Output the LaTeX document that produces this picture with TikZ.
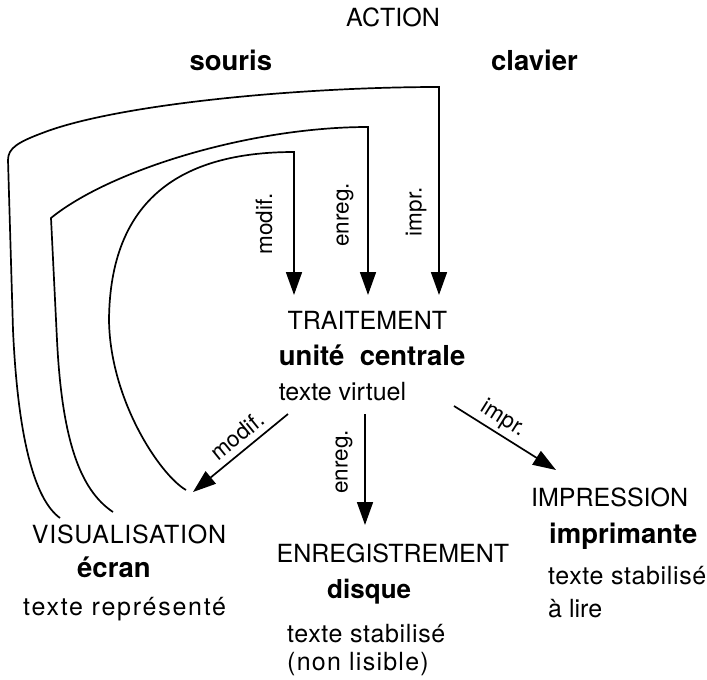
\documentclass[tikz,border=0pt]{standalone}
\usepackage{fontspec}
\setmainfont{TeX Gyre Heros}
\usetikzlibrary{arrows.meta}
\newcommand{\lsp}[1]{\addfontfeature{LetterSpace=#1}}
\begin{document}
\begin{tikzpicture}[x=1pt,y=-1pt,
  lbl/.style={inner sep=0pt, anchor=base west, font=\fontsize{25}{30}\selectfont},
  bld/.style={inner sep=0pt, anchor=base west, font=\fontsize{27.5}{32}\selectfont\bfseries},
  tag/.style={inner sep=0pt, font=\fontsize{22.5}{27}\selectfont},
  arr/.style={line width=1.7pt, -{Triangle[length=23pt,width=16pt]}}]
\useasboundingbox (0,0) rectangle (707,680);
% texts
\node[lbl] (action) at (346,27) {ACTION};
\node[bld] (souris) at (189.4,70) {souris};
\node[bld] (clavier) at (491,70) {clavier};
\node[lbl] (trait) at (287.3,329) {TRAITEMENT};
\node[bld] (uc) at (278.7,365) {unité\ \ centrale};
\node[lbl] (tv) at (278.7,400) {texte virtuel};
\node[lbl] (visu) at (31.7,543) {\lsp{3}VISUALISATION};
\node[bld] (ecran) at (77,577) {écran};
\node[lbl] (trep) at (23,615) {\lsp{7}texte représenté};
\node[lbl] (enr) at (276.4,562) {ENREGISTREMENT};
\node[bld, font=\fontsize{26}{30}\selectfont\bfseries] (disque) at (327,598) {disque};
\node[lbl] (tsa) at (287,642) {\lsp{2.5}texte stabilisé};
\node[lbl] (nl) at (287,670) {\lsp{5}(non lisible)};
\node[lbl] (impr) at (531,506) {IMPRESSION};
\node[bld] (imprim) at (549,543) {imprimante};
\node[lbl] (tsb) at (548,584) {\lsp{2.5}texte stabilisé};
\node[lbl] (alire) at (548,617) {à lire};
% labels on connectors
\node[tag, rotate=90] (lm) at (264,224) {modif.};
\node[tag, rotate=90] (le) at (345,215) {enreg.};
\node[tag, rotate=90] (li) at (416,212) {impr.};
\node[tag, rotate=39] (bm) at (237,436) {modif.};
\node[tag, rotate=90] (be) at (344,462) {enreg.};
\node[tag, rotate=-32] (bi) at (503,419) {impr.};
% connector ends
\coordinate (so) at (60,518);
\coordinate (sm) at (113,512);
\coordinate (si) at (186,490);
\coordinate (to) at (439,295);
\coordinate (tm) at (368,295);
\coordinate (ti) at (294,295);
\coordinate (fv) at (288,414);
\coordinate (fe) at (365,414);
\coordinate (fi) at (454,406);
\coordinate (av) at (193,492);
\coordinate (ae) at (365,525);
\coordinate (ai) at (556,470);
% curved connectors from VISUALISATION up to TRAITEMENT
\draw[arr] (so) .. controls (35,500) and (18,440) .. (13,330) -- (8,160)
  .. controls (8,148) and (18,142) .. (45,132)
  .. controls (120,104) and (300,87) .. (439,87) -- (to);
\draw[arr] (sm) .. controls (80,490) and (62,440) .. (57,340) -- (51,218)
  .. controls (110,170) and (250,127) .. (368,127) -- (tm);
\draw[arr] (si) .. controls (160,475) and (110,400) .. (109,320)
  .. controls (110,200) and (180,152) .. (294,152) -- (ti);
% straight connectors from TRAITEMENT
\draw[arr] (fv) -- (av);
\draw[arr] (fe) -- (ae);
\draw[arr] (fi) -- (ai);
\end{tikzpicture}
\end{document}
